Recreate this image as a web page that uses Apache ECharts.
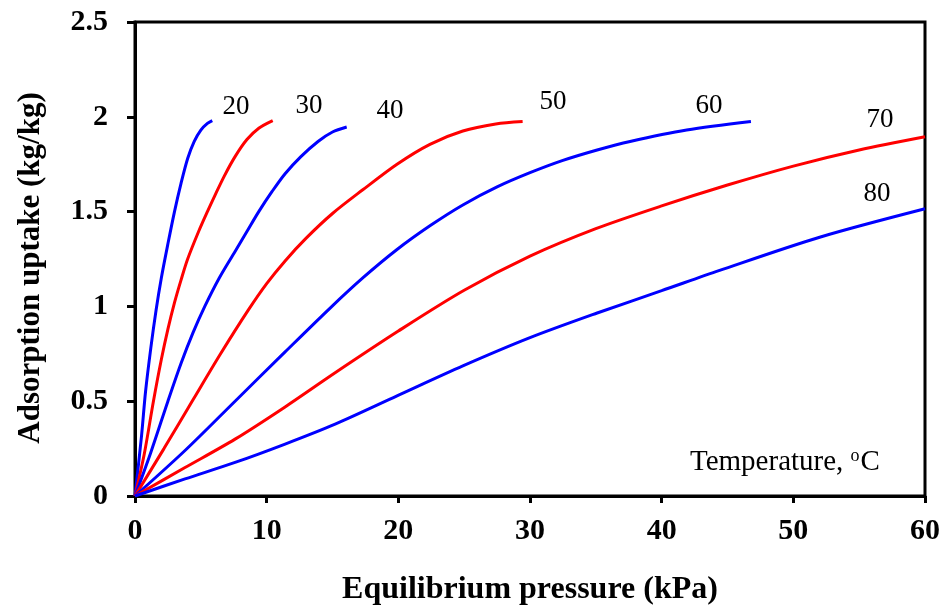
<!DOCTYPE html>
<html>
<head>
<meta charset="utf-8">
<script src="https://cdn.jsdelivr.net/npm/echarts@6/dist/echarts.min.js"></script>
<style>
  html, body { margin: 0; padding: 0; background: #fff; }
  #chart { width: 943px; height: 611px; }
</style>
</head>
<body>
<div id="chart"></div>
<script>
// equilibrium pressure (kPa) / uptake (kg/kg), one pair of arrays per temperature
const p20 = [0, 0.5, 0.8, 1.2, 1.6, 2.0, 2.5, 3.0, 3.5, 4.0, 4.5, 5.0, 5.5, 5.87];
const q20 = [0, 0.32, 0.55, 0.78, 0.98, 1.15, 1.33, 1.5, 1.65, 1.78, 1.87, 1.93, 1.965, 1.98];

const p30 = [0, 0.7, 1.4, 2.0, 2.5, 3.0, 3.5, 4.0, 4.8, 5.5, 6.1, 6.8, 7.6, 8.5, 9.4, 10.46];
const q30 = [0, 0.22, 0.5, 0.72, 0.88, 1.02, 1.14, 1.25, 1.39, 1.5, 1.59, 1.69, 1.79, 1.88, 1.94, 1.98];

const p40 = [0, 1.2, 2.5, 3.5, 4.4, 5.3, 6.4, 7.6, 8.5, 9.4, 10.4, 11.4, 12.6, 13.9, 15.0, 16.08];
const q40 = [0, 0.23, 0.5, 0.7, 0.86, 1.0, 1.15, 1.29, 1.395, 1.5, 1.605, 1.7, 1.79, 1.87, 1.92, 1.946];

const p50 = [0, 2.2, 4.43, 6.5, 8.6, 10.0, 11.4, 13.0, 15.0, 17.3, 19.9, 22.4, 24.9, 27.4, 29.44];
const q50 = [0, 0.25, 0.51, 0.75, 0.98, 1.12, 1.24, 1.36, 1.49, 1.615, 1.75, 1.855, 1.925, 1.962, 1.975];

const p60 = [0, 3.8, 7.6, 11.4, 14.8, 17.3, 19.9, 22.4, 24.9, 27.5, 30.0, 32.5, 35.1, 37.6, 41.9, 46.78];
const q60 = [0, 0.24, 0.5, 0.76, 0.99, 1.15, 1.3, 1.425, 1.535, 1.63, 1.705, 1.77, 1.825, 1.87, 1.93, 1.975];

const p70 = [0, 3.8, 7.6, 11.4, 15.2, 20, 25, 30, 35, 40, 45, 50, 55, 60];
const q70 = [0, 0.15, 0.3, 0.47, 0.65, 0.87, 1.085, 1.265, 1.41, 1.53, 1.64, 1.74, 1.825, 1.895];

const p80 = [0, 3.8, 7.6, 11.4, 15.2, 19.9, 24.9, 30, 35.1, 40, 44.4, 52, 60];
const q80 = [0, 0.09, 0.177, 0.274, 0.379, 0.528, 0.686, 0.835, 0.965, 1.083, 1.19, 1.365, 1.515];

const temps = ["20", "30", "40", "50", "60", "70", "80"];
const xTicks = [0, 10, 20, 30, 40, 50, 60];
const yTicks = [0, 0.5, 1, 1.5, 2, 2.5];

const serif = '"Liberation Serif", "Times New Roman", serif';
const chart = echarts.init(document.getElementById("chart"));

const pairs = [[p20, q20], [p30, q30], [p40, q40], [p50, q50], [p60, q60], [p70, q70], [p80, q80]];
const colors = ["#0000ff", "#ff0000", "#0000ff", "#ff0000", "#0000ff", "#ff0000", "#0000ff"];

const series = pairs.map(function (pq, i) {
  return {
    name: temps[i],
    type: "line",
    data: pq[0].map(function (p, k) { return [p, pq[1][k]]; }),
    smooth: 0.3,
    showSymbol: false,
    lineStyle: { color: colors[i], width: 3 },
    z: 3,
  };
});

// curve labels (pixel spots next to each curve end)
const labelSpots = [[236, 107], [309, 106], [390, 111], [553, 102], [709, 106], [880, 120], [877, 194]];
const graphics = labelSpots.map(function (pos, i) {
  return {
    type: "text",
    x: pos[0],
    y: pos[1],
    style: {
      text: temps[i],
      font: "27px " + serif,
      fill: "#000",
      align: "center",
      verticalAlign: "middle",
    },
  };
});
graphics.push({
  type: "text",
  x: 690,
  y: 462,
  style: {
    text: "Temperature, {sup|o}C",
    font: "29px " + serif,
    fill: "#000",
    verticalAlign: "middle",
    rich: {
      sup: { font: "18px " + serif, verticalAlign: "top", padding: [0, 1, 12, 0] },
    },
  },
});

const option = {
  animation: false,
  grid: {
    left: 135,
    right: 18,
    top: 22,
    bottom: 114,
    show: true,
    borderColor: "#000",
    borderWidth: 3,
  },
  xAxis: {
    type: "value",
    min: xTicks[0],
    max: xTicks[xTicks.length - 1],
    interval: 10,
    name: "Equilibrium pressure (kPa)",
    nameLocation: "middle",
    nameGap: 78,
    nameTextStyle: { fontFamily: serif, fontWeight: "bold", fontSize: 32, color: "#000" },
    axisLine: { lineStyle: { color: "#000", width: 3 } },
    axisTick: { show: true, inside: false, length: 7, lineStyle: { color: "#000", width: 3 } },
    axisLabel: { fontFamily: serif, fontWeight: "bold", fontSize: 30, color: "#000", margin: 20 },
    splitLine: { show: false },
  },
  yAxis: {
    type: "value",
    min: yTicks[0],
    max: yTicks[yTicks.length - 1],
    interval: 0.5,
    name: "Adsorption uptake (kg/kg)",
    nameLocation: "middle",
    nameGap: 89,
    nameTextStyle: { fontFamily: serif, fontWeight: "bold", fontSize: 31, color: "#000", padding: [0, 18, 0, 0] },
    axisLine: { lineStyle: { color: "#000", width: 3 } },
    axisTick: { show: true, inside: false, length: 8, lineStyle: { color: "#000", width: 3 } },
    axisLabel: { fontFamily: serif, fontWeight: "bold", fontSize: 30, color: "#000", margin: 27 },
    splitLine: { show: false },
  },
  series: series,
  graphic: graphics,
};

chart.setOption(option);
</script>
</body>
</html>
